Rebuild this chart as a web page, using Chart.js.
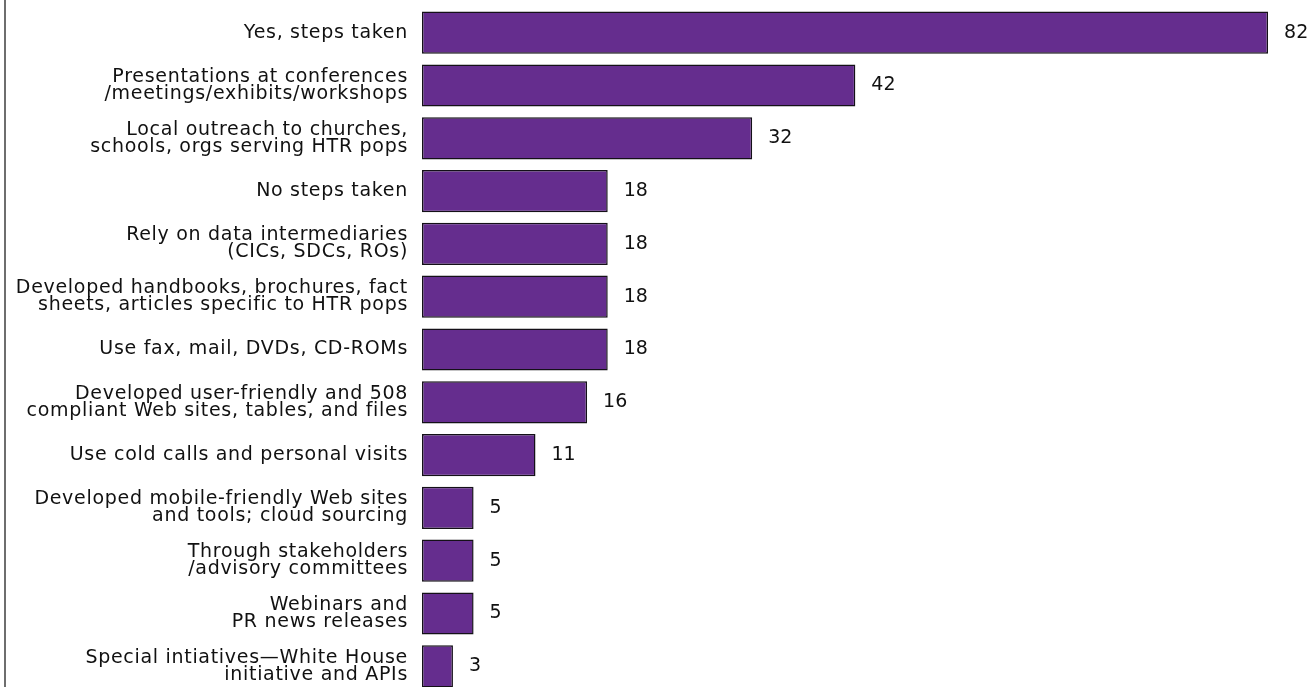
<!DOCTYPE html>
<html>
<head>
<meta charset="utf-8">
<script src="https://cdn.jsdelivr.net/npm/chart.js@4"></script>
<style>
  body { margin: 0; background: #fff; overflow: hidden; }
  #wrap { position: relative; width: 1309px; height: 687px; overflow: hidden; }
  #edge { position: absolute; left: 4px; top: 0; width: 2px; height: 687px; background: #6e6e6e; }
  canvas { position: absolute; left: 0; top: 0; }
</style>
</head>
<body>
<div id="wrap">
  <canvas id="steps" width="1309" height="700"></canvas>
  <div id="edge"></div>
</div>
<script>
const categories = [
    'Yes, steps taken',
    ['Presentations at conferences', '/meetings/exhibits/workshops'],
    ['Local outreach to churches,', 'schools, orgs serving HTR pops'],
    'No steps taken',
    ['Rely on data intermediaries', '(CICs, SDCs, ROs)'],
    ['Developed handbooks, brochures, fact', 'sheets, articles specific to HTR pops'],
    'Use fax, mail, DVDs, CD-ROMs',
    ['Developed user-friendly and 508', 'compliant Web sites, tables, and files'],
    'Use cold calls and personal visits',
    ['Developed mobile-friendly Web sites', 'and tools; cloud sourcing'],
    ['Through stakeholders', '/advisory committees'],
    ['Webinars and', 'PR news releases'],
    ['Special intiatives\u2014White House', 'initiative and APIs']
]
const counts = [82, 42, 32, 18, 18, 18, 18, 16, 11, 5, 5, 5, 3]

const fontFamily = '"DejaVu Sans", "Lucida Grande", sans-serif'

// slightly looser letters, set again whenever the canvas state may have been reset
const spacing = {
    id: 'spacing',
    beforeUpdate(chart) { chart.ctx.letterSpacing = '0.7px' },
    beforeDraw(chart) { chart.ctx.letterSpacing = '0.7px' }
}

// number to the right of each bar
const valueLabels = {
    id: 'valueLabels',
    afterDatasetsDraw(chart) {
        const ctx = chart.ctx
        const meta = chart.getDatasetMeta(0)
        ctx.save()
        ctx.letterSpacing = '0px'
        ctx.font = '19px ' + fontFamily
        ctx.fillStyle = '#111'
        ctx.textAlign = 'left'
        ctx.textBaseline = 'middle'
        meta.data.forEach((bar, i) => {
            ctx.fillText(String(counts[i]), bar.x + 16, bar.y)
        })
        ctx.restore()
    }
}

const ctx = document.querySelector('#steps')
const stepsChart = new Chart(ctx, {
    type: 'bar',
    data: {
        labels: categories,
        datasets: [{
            data: counts,
            backgroundColor: '#652d8e',
            borderColor: '#141018',
            borderWidth: 1.5,
            borderSkipped: false,
            barPercentage: 0.8,
            categoryPercentage: 1
        }]
    },
    options: {
        indexAxis: 'y',
        responsive: false,
        animation: false,
        layout: {
            padding: { top: 6.3, bottom: 7.3, left: 0, right: 10 }
        },
        plugins: {
            legend: { display: false },
            tooltip: { enabled: false }
        },
        scales: {
            x: {
                display: false,
                min: 0,
                max: 85
            },
            y: {
                grid: { display: false, drawTicks: false },
                border: { display: false },
                afterFit(axis) {
                    axis.width = 422
                    axis.paddingTop = 0
                    axis.paddingBottom = 0
                },
                ticks: {
                    autoSkip: false,
                    padding: 14,
                    color: '#111',
                    font: { family: fontFamily, size: 19, lineHeight: 0.88 }
                }
            }
        }
    },
    plugins: [spacing, valueLabels]
})
</script>
</body>
</html>
